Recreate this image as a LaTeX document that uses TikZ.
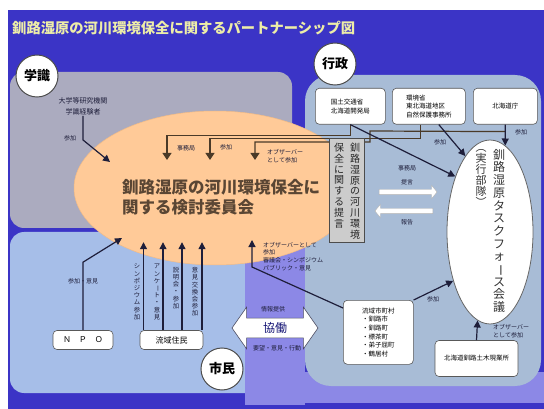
\documentclass[tikz,border=0pt]{standalone}
\usepackage{fontspec}
\setmainfont{Noto Sans CJK JP}
\usetikzlibrary{arrows.meta,shapes.geometric,shapes.arrows,calc}
\definecolor{bgblue}{HTML}{3B34C6}
\definecolor{gakugray}{HTML}{ABABBF}
\definecolor{gyosei}{HTML}{A8BCD6}
\definecolor{shimin}{HTML}{A6BEE8}
\definecolor{lav}{HTML}{8C88E6}
\definecolor{peach}{HTML}{FFCA98}
\definecolor{ink}{HTML}{1E1E3A}
\definecolor{brownline}{HTML}{4A3A28}
\definecolor{titley}{HTML}{EDEDA8}
\definecolor{comtext}{HTML}{5A4634}
\newcommand{\fs}[1]{\fontsize{#1}{#1}\selectfont}
\newcommand{\vbar}{\rotatebox[origin=c]{-90}{ー}}
\begin{document}
\begin{tikzpicture}[x=1pt,y=-1pt,
  font=\fs{6.5},
  conn/.style={draw=ink, line width=1.2pt, -{Triangle[width=7pt,length=7pt]}},
  bconn/.style={draw=brownline, line width=1.2pt, -{Triangle[width=9pt,length=7pt]}},
  wbox/.style={draw=gray!70!black, fill=white, rounded corners=4pt, line width=0.6pt, align=left, inner sep=3pt, font=\fontsize{6.5}{8.6}\selectfont},
  tag/.style={circle, draw=black!70, fill=white, line width=1pt, minimum size=42pt, inner sep=0pt, font=\fs{13}\bfseries},
  lbl/.style={font=\fontsize{6}{7.6}\selectfont, text=ink, inner sep=1pt},
  vtxt/.style={align=center, inner sep=0pt},
  wblk/.style={single arrow, fill=white, draw=gray!60, line width=0.4pt, minimum height=58pt, inner sep=2.5pt, single arrow head extend=4pt, single arrow tip angle=100},
]
\useasboundingbox (0,0) rectangle (544,409);
\fill[white] (0,0) rectangle (544,409);
\fill[bgblue] (8,10) rectangle (544,409);
% regions
\fill[gakugray, rounded corners=14pt] (10,72) rectangle (292,228);
\fill[shimin, rounded corners=14pt] (10,232) rectangle (262,393);
\fill[lav] (245,225) rectangle (305,405);
\fill[lav] (245,372) rectangle (544,403);
\fill[gyosei, rounded corners=26pt] (305,75) rectangle (541,386);

% title
\node[anchor=west, font=\fs{14.3}\bfseries, text=titley, inner sep=0pt] (title) at (12,28) {釧路湿原の河川環境保全に関するパートナーシップ図};

% committee
\node[ellipse, fill=peach, draw=peach!80!brown, line width=0.5pt, minimum width=282pt, minimum height=154pt, inner sep=0pt] (com) at (215,188) {};
\node[anchor=west, align=left, font=\fontsize{16.5}{20}\selectfont\bfseries, text=comtext, inner sep=0pt] (comtxt) at (122,197) {釧路湿原の河川環境保全に\\関する検討委員会};

% task force
\node[ellipse, fill=white, draw=black!60, line width=0.8pt, minimum width=86pt, minimum height=184pt, inner sep=0pt] (tf) at (490,232) {};
\node[vtxt, font=\fontsize{12}{12.7}\selectfont, anchor=north, text=black!80] (tft) at (499,149) {釧\\路\\湿\\原\\タ\\ス\\ク\\フ\\ォ\\\vbar\\ス\\会\\議};
\node[vtxt, font=\fontsize{11}{11}\selectfont, anchor=north, text=black!80] (tfsub) at (481,149) {︵\\実\\行\\部\\隊\\︶};

% gyosei boxes
\node[wbox, minimum width=70pt, minimum height=36pt, anchor=north west] (b1) at (315,88) {国土交通省\\北海道開発局};
\node[wbox, minimum width=73pt, minimum height=36pt, anchor=north west] (b2) at (392,88) {環境省\\東北海道地区\\自然保護事務所};
\node[wbox, minimum width=64pt, minimum height=36pt, anchor=north west, align=center] (b3) at (473,88) {北海道庁};

% bus lines to committee
\coordinate (t1) at (167,160);
\coordinate (t2) at (210,160);
\coordinate (t3) at (255,160);
\coordinate (c1) at (370,131);
\coordinate (c2) at (370,142);
\draw[bconn] (b1.south) -- ++(0,11) -| (t1);
\draw[bconn] ($(b2.south)+(-8,0)$) -- ++(0,14) -| (t2);
\draw[bconn] ($(b3.south)+(0,7)$) -- (c1) -- (c2) -| (t3);
\node[lbl] (l1) at (186,148) {事務局};
\node[lbl] (l2) at (226,147) {参加};
\node[lbl, anchor=west, align=left] (l3) at (266,156) {オブザーバー\\として参加};

% gyosei to task force
\draw[conn] (b1.south) -- (tf.122);
\draw[conn] ($(b2.south)+(10,0)$) -- (tf.108);
\draw[conn] (b3.south) -- (tf.80);
\node[lbl] (l4) at (407,168) {事務局};
\node[lbl] (l5) at (440,142) {参加};
\node[lbl] (l6) at (521,132) {参加};

% teigen box
\node[draw=black!70, fill=black!20, line width=0.7pt, minimum width=35pt, minimum height=104pt, inner sep=0pt] (teigen) at (346.5,190) {};
\node[vtxt, font=\fontsize{10}{10.8}\selectfont, anchor=north, text=black!85] (tg1) at (355,143) {釧\\路\\湿\\原\\の\\河\\川\\環\\境};
\node[vtxt, font=\fontsize{10}{10.8}\selectfont, anchor=north, text=black!85] (tg2) at (339,143) {保\\全\\に\\関\\す\\る\\提\\言};

% white arrows
\node[wblk] (ar1) at (407,192) {};
\node[wblk, shape border rotate=180] (ar2) at (405,211) {};
\node[lbl] (l7) at (407,182) {提言};
\node[lbl] (l8) at (407,222) {報告};

% gakushiki
\node[align=center, font=\fontsize{7}{11}\selectfont, text=ink, inner sep=1pt] (gtxt) at (83,106) {大学等研究機関\\学識経験者};
\coordinate (g1) at (110,162);
\draw[conn] (gtxt.south) -- ++(0,24) -- (g1);
\node[lbl] (l9) at (70,138) {参加};

% citizens
\node[wbox, minimum width=60pt, minimum height=19pt, align=center, font=\fs{8}] (npo) at (83,340) {Ｎ　Ｐ　Ｏ};
\node[wbox, minimum width=63pt, minimum height=19pt, align=center, font=\fs{8}] (jumin) at (171.5,340) {流域住民};
\coordinate (n1) at (122,238);
\draw[conn] (npo.north) -- ++(0,-68) -- (n1);
\node[lbl] (l10) at (83,281) {参加・意見};
\draw[conn] ($(jumin.north)+(-28,0)$) -- ++(0,-88);
\draw[conn] ($(jumin.north)+(-8.5,0)$) -- ++(0,-88);
\draw[conn] ($(jumin.north)+(10.5,0)$) -- ++(0,-88);
\draw[conn] ($(jumin.north)+(30.5,0)$) -- ++(0,-88);
\node[vtxt, font=\fontsize{6.3}{7.2}\selectfont, text=ink] (v1) at (137,292) {シ\\ン\\ポ\\ジ\\ウ\\ム\\参\\加};
\node[vtxt, font=\fontsize{6.3}{7.2}\selectfont, text=ink] (v2) at (157,292) {ア\\ン\\ケ\\\vbar\\ト\\・\\意\\見};
\node[vtxt, font=\fontsize{6.3}{7.2}\selectfont, text=ink] (v3) at (176,288) {説\\明\\会\\・\\参\\加};
\node[vtxt, font=\fontsize{6.3}{7.2}\selectfont, text=ink] (v4) at (195,292) {意\\見\\交\\換\\会\\参\\加};

% city box
\node[wbox, minimum width=70pt, minimum height=64pt, anchor=north west] (city) at (343,300) {流域市町村\\・釧路市\\・釧路町\\・標茶町\\・弟子屈町\\・鶴居村};
\coordinate (p1) at (252,267);
\coordinate (p2) at (252,240);
\draw[conn] ($(city.north west)+(0,8)$) -- (p1) -- (p2);
\draw[conn] (city.north east) -- (tf.233);
\node[lbl] (l11) at (433,299) {参加};
\node[lbl, anchor=north west, align=left] (obs) at (262,241) {オブザーバーとして\\参加\\審議会・シンポジウム\\パブリック・意見};

% road office
\node[wbox, minimum width=83pt, minimum height=36pt, align=center] (road) at (476.5,358.5) {北海道釧路土木現業所};
\draw[conn] (road.north) -- (tf.262);
\node[lbl, anchor=west, align=left] (l12) at (492,331) {オブザーバー\\として参加};

% kyodo
\node[double arrow, fill=white, draw=ink!80, line width=0.6pt, font=\fs{12}, text=ink!70!blue, minimum height=86pt, double arrow head extend=11pt, double arrow tip angle=110, inner xsep=2pt, inner ysep=4pt] (kyodo) at (275,328) {協働};
\node[lbl] (l13) at (273,309) {情報提供};
\node[lbl] (l14) at (277,348) {要望・意見・行動};

% tags
\node[tag] (cgaku) at (37,76) {学識};
\node[tag] (cgyo) at (335,64) {行政};
\node[tag] (cshi) at (222,369) {市民};
\end{tikzpicture}
\end{document}
